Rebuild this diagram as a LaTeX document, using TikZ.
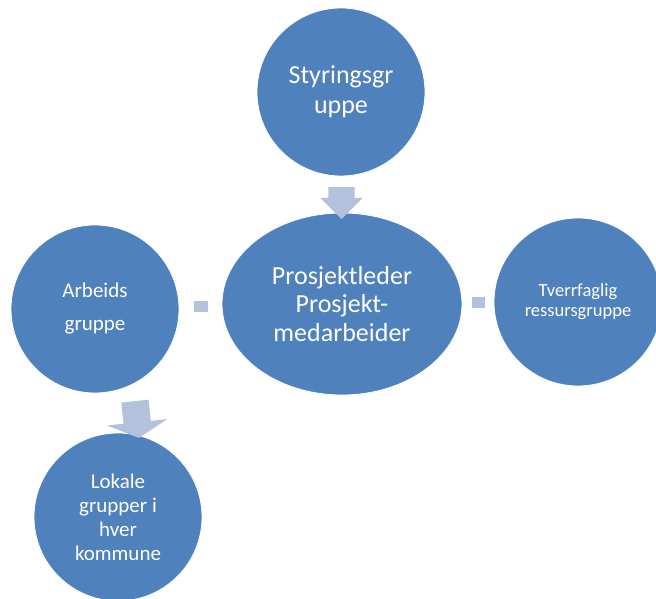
\documentclass[tikz,border=0pt]{standalone}
\usepackage{fontspec}
\setmainfont{Carlito}
\usepackage{tikz}
\usetikzlibrary{calc,positioning,shapes.geometric,shapes.arrows}
\definecolor{kuleblaa}{RGB}{79,129,189}
\definecolor{pilblaa}{RGB}{179,193,220}
\tikzset{
    kule/.style={
      circle, 
      fill=kuleblaa,
      draw=white, thick,
      minimum size=168pt, 
      inner sep=0pt,
      text=white,
      align=center},
    sentrum/.style={
      ellipse, 
      fill=kuleblaa,
      draw=white, thick,
      minimum width=240pt, 
      minimum height=182pt,
      inner sep=0pt,
      text=white,
      align=center},
    pil/.style={
      single arrow,
      fill=pilblaa,
      inner xsep=0pt,
      single arrow head indent=0pt},
    stump/.style={
      rectangle,
      fill=pilblaa,
      minimum width=14pt,
      minimum height=11pt,
      inner sep=0pt},
}

\begin{document}
\begin{tikzpicture}[x=1pt,y=1pt]
      \useasboundingbox (0,0) rectangle (656,599);
      \node[kule, font=\fontsize{26}{30}\selectfont] (styr) at (341,507) {Styringsgr\\uppe};
      \node[sentrum, font=\fontsize{26}{28.5}\selectfont] (prosj) at (342,295) {Prosjektleder\\Prosjekt-\\medarbeider};
      \node[kule, font=\fontsize{21}{33}\selectfont] (arb) at (95,290) {Arbeids\\gruppe};
      \node[kule, font=\fontsize{18.5}{20}\selectfont] (tverr) at (578,297) {Tverrfaglig\\ressursgruppe};
      \node[kule, font=\fontsize{21}{24}\selectfont] (lokal) at (118,82) {Lokale\\grupper i\\hver\\kommune};
      % piler og stumper
      \node[pil, rotate=-90, inner ysep=13pt, minimum height=32pt, single arrow head extend=8pt] (pil1) at ($(styr.south)!0.5!(prosj.north)+(0,-2)$) {};
      \node[pil, rotate=-84, inner ysep=13.5pt, minimum height=37pt, single arrow head extend=16.5pt, single arrow tip angle=125] (pil2) at ($(arb.south)!0.5!(lokal.north)+(30,-3)$) {};
      \node[stump] (stump1) at ($(arb.east)!0.5!(prosj.west)$) {};
      \node[stump, minimum width=13pt] (stump2) at ($(prosj.east)!0.5!(tverr.west)$) {};
\end{tikzpicture}
\end{document}
